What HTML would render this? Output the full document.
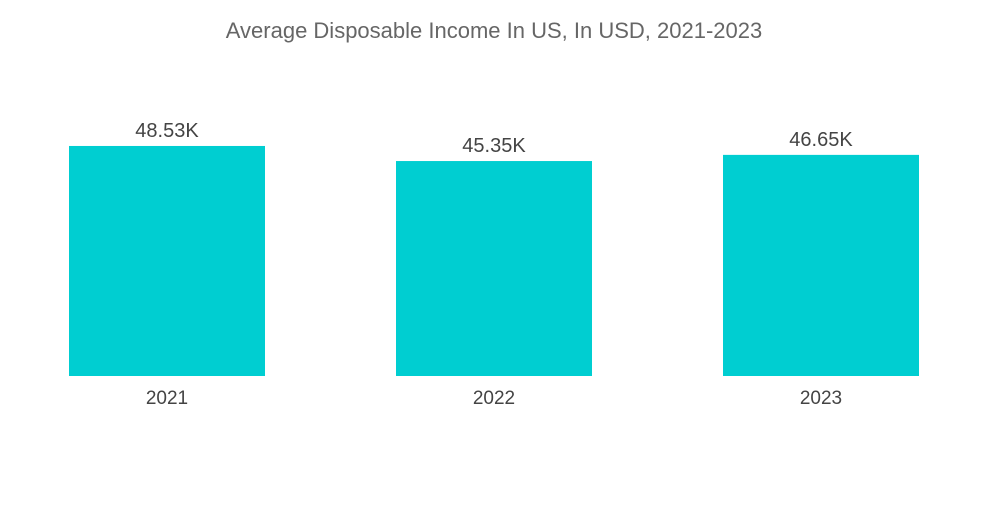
<!DOCTYPE html>
<html><head><meta charset="utf-8"><style>
body{margin:0;background:#fff;width:1000px;height:504px;overflow:hidden;font-family:"Liberation Sans",sans-serif;}
</style></head><body>
<svg width="1000" height="504">
<text x="494" y="38" text-anchor="middle" font-size="22" fill="#666">Average Disposable Income In US, In USD, 2021-2023</text>
<g id="bars"></g>
</svg>
<script>
const categories=["2021","2022","2023"];
const values=[48.53,45.35,46.65];
const valueLabels=["48.53K","45.35K","46.65K"];
const baseY=376, pxPerK=4.74, x0=69, step=327, bw=196;
const g=document.getElementById('bars');
const ns="http://www.w3.org/2000/svg";
function xs(i){return x0+i*step;}
function ys(v){return baseY-v*pxPerK;}
categories.forEach((c,i)=>{
  const r=document.createElementNS(ns,'rect');
  
  
  r.setAttribute('x',xs(i));r.setAttribute('y',ys(values[i]));
  r.setAttribute('width',bw);r.setAttribute('height',baseY-ys(values[i]));
  r.setAttribute('fill','#00ced1');g.appendChild(r);
  const t=document.createElementNS(ns,'text');
  
  
  t.setAttribute('x',xs(i)+bw/2);t.setAttribute('y',ys(values[i])-9);
  t.setAttribute('text-anchor','middle');t.setAttribute('font-size','20');t.setAttribute('fill','#444');
  t.textContent=valueLabels[i];g.appendChild(t);
  const a=document.createElementNS(ns,'text');
  
  
  a.setAttribute('x',xs(i)+bw/2);a.setAttribute('y',404);
  a.setAttribute('text-anchor','middle');a.setAttribute('font-size','19');a.setAttribute('fill','#444');
  a.textContent=c;g.appendChild(a);
});
</script>
</body></html>
